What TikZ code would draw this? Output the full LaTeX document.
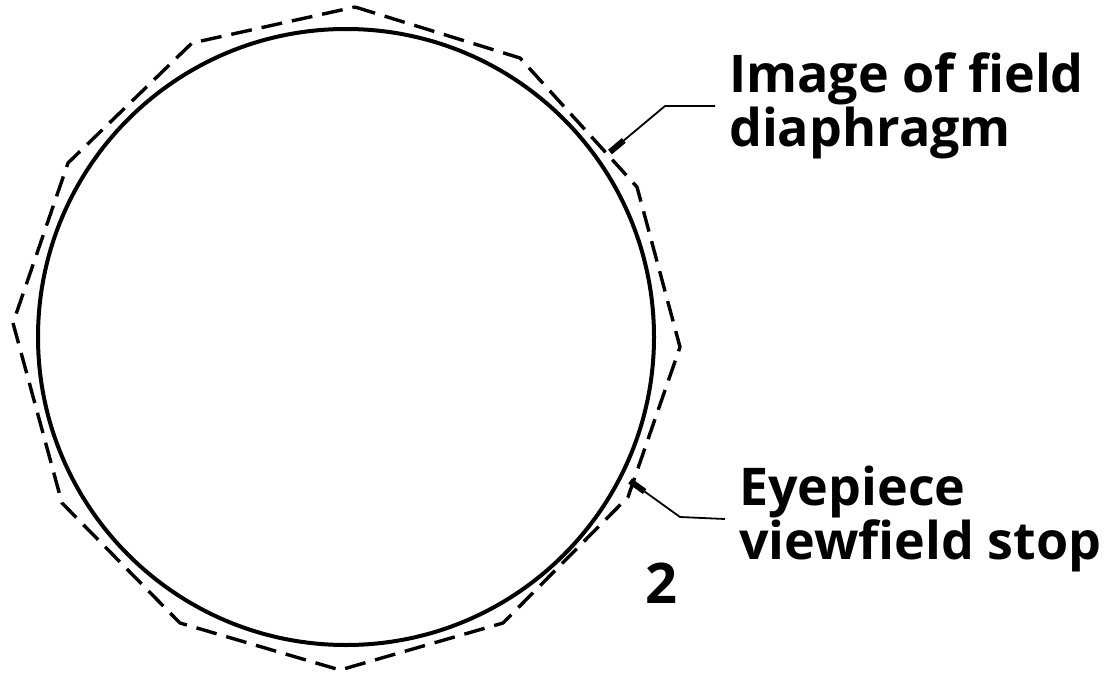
\documentclass[tikz,border=0pt]{standalone}
\usepackage{fontspec}
\setmainfont{Open Sans}
\usetikzlibrary{arrows.meta}

\begin{document}
\begin{tikzpicture}[x=1pt,y=-1pt,
    lbl/.style={font=\fontsize{52}{54}\selectfont\bfseries,align=left,anchor=west,
      inner xsep=14pt,inner ysep=0pt},
    lead/.style={line width=1.8pt,line join=round,{Rectangle[length=18pt,width=6pt]}-}]
    \useasboundingbox (0,0) rectangle (1105,677);
    % eyepiece stop
    \draw[line width=4pt] (346,337) circle (308pt);
    % image of the field diaphragm
    \draw[line width=3.4pt,dash pattern=on 21pt off 10pt,line join=round]
      (355,7) -- (520,58) -- (637,187) -- (680,347) -- (628,497) -- (503,623)
      -- (340,670) -- (180,623) -- (62,503) -- (13,323) -- (68,163) -- (192,43)
      -- cycle;
    % labels
    \node[lbl] (fd) at (715,106) {Image of field\\diaphragm};
    \node[lbl] (es) at (725,519) {Eyepiece\\viewfield stop};
    \node[font=\fontsize{56}{56}\selectfont\bfseries] (fig) at (661,583) {2};
    \coordinate (c1) at (610,152);
    \coordinate (k1) at (665,106);
    \coordinate (c2) at (630,481);
    \coordinate (k2) at (680,517);
    \draw[lead] (c1) -- (k1) -- (fd.west);
    \draw[lead] (c2) -- (k2) -- (es.west);
  \end{tikzpicture}
\end{document}
